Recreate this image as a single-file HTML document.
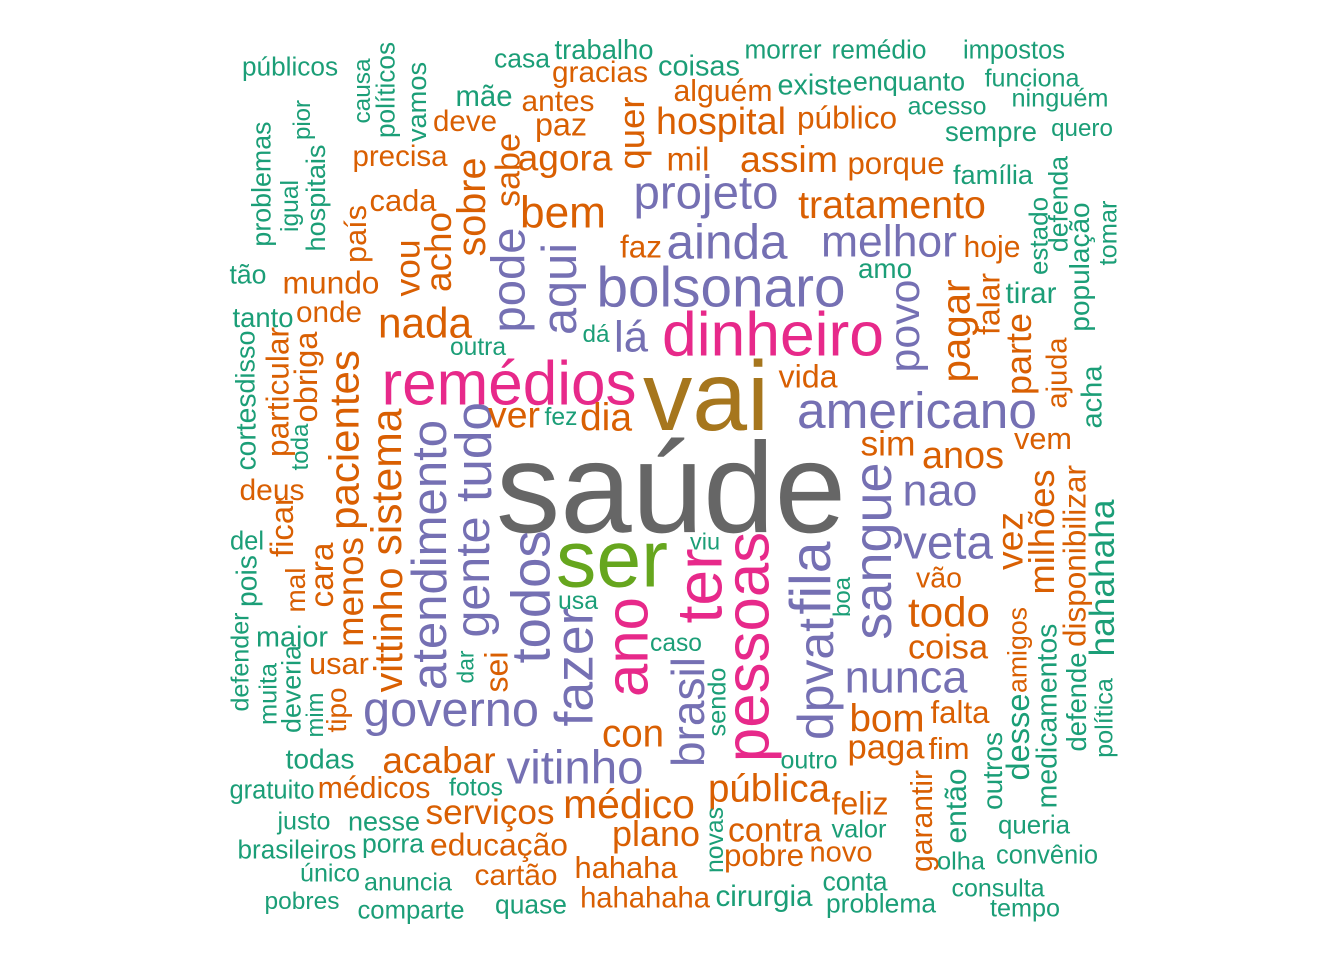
<!DOCTYPE html>
<html><head><meta charset="utf-8">
<style>
html,body{margin:0;padding:0;background:#fff;}
svg{display:block;}
text{font-family:"Liberation Sans",Arial,sans-serif;}
</style></head>
<body>
<svg id="cloud" width="1344" height="960" viewBox="0 0 1344 960" xmlns="http://www.w3.org/2000/svg">
<rect width="1344" height="960" fill="#fff"/>
</svg>
<script>
const palette = {t:"#1B9E77",o:"#D95F02",p:"#7570B3",k:"#E7298A",g:"#66A61E",y:"#A6761D",s:"#666666"};
// [word, color, vertical, centerX, centerY, extent]
const words = [
["saúde","s",0,671,486,350],["vai","y",0,706,394,126],["ser","g",0,612,558,112],
["remédios","k",0,509,383,255],["dinheiro","k",0,773,334,222],["pessoas","k",1,747,647,230],
["ter","k",1,698,586,75],["ano","k",1,626,647,100],
["bolsonaro","p",0,721,287,249],["americano","p",0,917,409,240],["projeto","p",0,706,192,145],
["ainda","p",0,727,241,121],["melhor","p",0,889,241,136],["governo","p",0,451,709,176],
["vitinho","p",0,575,767,137],["nunca","p",0,906,676,123],["nao","p",0,940,489,75],["veta","p",0,948,542,90],
["lá","p",0,631,336,34],
["pode","p",1,508,280,105],["aqui","p",1,559,289,92],["atendimento","p",1,429,555,270],
["tudo","p",1,472,452,100],["gente","p",1,472,577,121],["todos","p",1,530,597,133],["fazer","p",1,574,667,119],
["sangue","p",1,872,551,177],["fila","p",1,810,578,73],["dpvat","p",1,815,679,122],["brasil","p",1,687,712,110],["povo","p",1,904,326,93],
["gracias","o",0,600,72,96],["antes","o",0,558,101,73],["deve","o",0,465,121,64],["paz","o",0,561,124,52],
["precisa","o",0,400,156,95],["agora","o",0,565,157,95],["cada","o",0,403,200,67],["bem","o",0,563,212,86],
["mundo","o",0,331,282,97],["onde","o",0,329,312,66],["nada","o",0,425,322,94],["faz","o",0,641,246,42],
["ver","o",0,514,414,52],["dia","o",0,606,417,52],["deus","o",0,272,490,65],["usar","o",0,339,663,60],
["con","o",0,633,733,62],["acabar","o",0,439,760,113],["médicos","o",0,374,788,113],["serviços","o",0,490,812,129],
["médico","o",0,629,803,132],["educação","o",0,499,844,138],["plano","o",0,656,833,88],["cartão","o",0,516,875,83],
["hahaha","o",0,626,867,103],["hahahaha","o",0,645,898,130],
["alguém","o",0,723,91,99],["hospital","o",0,721,120,130],["público","o",0,847,117,100],["mil","o",0,688,159,43],
["assim","o",0,789,158,98],["porque","o",0,896,163,97],["tratamento","o",0,892,204,188],["hoje","o",0,992,247,57],
["vida","o",0,808,376,59],["sim","o",0,888,443,55],["anos","o",0,963,455,82],["vem","o",0,1043,438,58],
["vão","o",0,939,578,46],["todo","o",0,949,611,82],["coisa","o",0,948,647,80],["bom","o",0,887,718,75],
["falta","o",0,960,712,59],["paga","o",0,886,747,77],["fim","o",0,949,748,41],["pública","o",0,769,788,122],
["feliz","o",0,860,803,57],["contra","o",0,775,830,94],["pobre","o",0,764,855,80],["novo","o",0,841,852,63],
["quer","o",1,631,133,73],["sabe","o",1,508,170,74],["sobre","o",1,471,207,99],["país","o",1,355,234,58],
["acho","o",1,438,252,80],["vou","o",1,407,268,57],["particular","o",1,277,392,130],["obriga","o",1,305,377,91],
["pacientes","o",1,343,440,180],["sistema","o",1,386,482,147],["ficar","o",1,281,526,62],["mal","o",1,295,590,45],
["cara","o",1,322,575,65],["menos","o",1,350,592,110],["vittinho","o",1,388,630,125],["tipo","o",1,336,710,45],
["sei","o",1,496,672,41],["pagar","o",1,955,331,103],["falar","o",1,988,304,62],["parte","o",1,1018,354,82],
["ajuda","o",1,1057,373,71],["vez","o",1,1009,541,58],["milhões","o",1,1041,532,125],
["disponibilizar","o",1,1074,556,182],["amigos","o",1,1017,650,86],["garantir","o",1,922,821,102],
["públicos","t",0,290,66,96],["casa","t",0,522,58,56],["trabalho","t",0,604,49,99],["mãe","t",0,484,96,57],
["tão","t",0,248,274,37],["tanto","t",0,263,317,61],["dá","t",0,596,334,27],["outra","t",0,478,347,56],
["fez","t",0,561,417,33],["del","t",0,247,541,34],["maior","t",0,292,637,72],["usa","t",0,578,601,40],
["caso","t",0,676,643,52],["todas","t",0,320,758,69],["gratuito","t",0,272,790,85],["fotos","t",0,476,787,54],
["justo","t",0,304,821,53],["nesse","t",0,384,821,72],["brasileiros","t",0,297,849,119],["porra","t",0,393,843,62],
["único","t",0,330,873,60],["anuncia","t",0,408,882,88],["pobres","t",0,302,901,75],["comparte","t",0,411,910,107],
["quase","t",0,531,904,72],["coisas","t",0,699,66,82],["morrer","t",0,783,49,77],["remédio","t",0,879,49,95],
["impostos","t",0,1014,50,102],["existe","t",0,815,85,75],["enquanto","t",0,909,81,112],["funciona","t",0,1032,78,95],
["ninguém","t",0,1060,98,97],["acesso","t",0,947,106,79],["sempre","t",0,991,131,92],["quero","t",0,1082,128,62],
["família","t",0,993,174,80],["amo","t",0,885,268,54],["tirar","t",0,1031,293,51],["viu","t",0,705,541,30],
["outro","t",0,809,760,57],["valor","t",0,859,829,55],["olha","t",0,961,861,48],["queria","t",0,1034,825,72],
["convênio","t",0,1047,855,102],["conta","t",0,855,881,65],["consulta","t",0,998,888,93],["cirurgia","t",0,764,896,97],
["problema","t",0,881,903,110],["tempo","t",0,1025,908,70],
["causa","t",1,362,91,65],["políticos","t",1,385,90,96],["vamos","t",1,416,102,80],["pior","t",1,302,120,40],
["problemas","t",1,261,184,125],["igual","t",1,290,206,52],["hospitais","t",1,315,198,107],
["cortes","t",1,245,432,77],["disso","t",1,245,362,63],["toda","t",1,300,447,47],["pois","t",1,246,581,52],
["defender","t",1,240,662,99],["muita","t",1,268,694,62],["deveria","t",1,291,689,88],["mim","t",1,315,715,45],
["dar","t",1,465,667,33],["estado","t",1,1038,236,78],["defenda","t",1,1058,204,96],["população","t",1,1079,267,129],
["tomar","t",1,1108,233,65],["acha","t",1,1092,397,63],["boa","t",1,842,597,40],["sendo","t",1,717,702,69],
["hahahaha","t",1,1102,578,157],["desse","t",1,1017,737,87],["medicamentos","t",1,1047,716,185],
["defende","t",1,1076,702,99],["política","t",1,1104,718,80],["então","t",1,956,806,75],["outros","t",1,992,771,78],
["novas","t",1,715,840,66]
];
const NS = "http://www.w3.org/2000/svg";
const svg = document.getElementById("cloud");
for (const w of words) {
  const el = document.createElementNS(NS, "text");
  el.textContent = w[0];
  
  
  el.setAttribute("font-size", "100");
  el.setAttribute("fill", palette[w[1]]);
  el.setAttribute("text-anchor", "middle");
  el.setAttribute("dominant-baseline", "central");
  svg.appendChild(el);
  const m = el.getComputedTextLength() || 1;
  const fs = 100 * w[5] / m;
  el.setAttribute("font-size", fs.toFixed(1));
  if (w[2]) {
    const x = w[3] + 0.02 * fs;
    el.setAttribute("x", 0); el.setAttribute("y", 0);
    el.setAttribute("transform", "translate(" + x + "," + w[4] + ") rotate(-90)");
  } else {
    el.setAttribute("x", w[3]); el.setAttribute("y", w[4] + 0.02 * fs);
  }
}
</script>
</body></html>
